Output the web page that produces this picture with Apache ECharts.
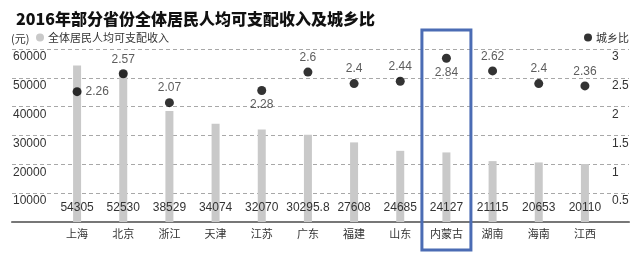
<!DOCTYPE html>
<html><head><meta charset="utf-8">
<script src="https://cdn.jsdelivr.net/npm/echarts@6/dist/echarts.min.js"></script>
<style>html,body{margin:0;padding:0;background:#fff}#c{width:640px;height:262px}</style>
</head><body><div id="c"></div>
<script>
var titleText = '2016年部分省份全体居民人均可支配收入及城乡比';
var categories = ['上海','北京','浙江','天津','江苏','广东','福建','山东','内蒙古','湖南','海南','江西'];
var incomeValues = [54305, 52530, 38529, 34074, 32070, 30295.8, 27608, 24685, 24127, 21115, 20653, 20110];
var ratioValues = [2.26, 2.57, 2.07, null, 2.28, 2.6, 2.4, 2.44, 2.84, 2.62, 2.4, 2.36];
var ratioLabelPos = ['right','top','top','top','bottom','top','top','top','bottom','top','top','top'];
var incomeTicks = [0, 10000, 20000, 30000, 40000, 50000, 60000];
var ratioTicks = [0, 0.5, 1, 1.5, 2, 2.5, 3];
var highlightCategory = '内蒙古';

var FONT = "'Liberation Sans', 'Noto Sans CJK SC', sans-serif";
var CJK = "'Noto Sans CJK SC', sans-serif";
var chart = echarts.init(document.getElementById('c'), null, {renderer:'canvas'});

var ratioData = ratioValues.map(function(v, i){
  return {value: v, label: {position: ratioLabelPos[i]}};
});
function plain(v){ return String(v); }

var option = {
  animation: false,
  textStyle: {fontFamily: FONT},
  title: {
    text: titleText, left: 11, top: 6,
    textStyle: {fontSize: 16, fontWeight: 900, color: '#111', fontFamily: CJK}
  },
  legend: [
    {data: ['全体居民人均可支配收入'], left: 36, top: 32, padding: 0, icon: 'circle', itemWidth: 8, itemHeight: 8, itemGap: 5,
     textStyle: {fontSize: 11, color: '#333', fontFamily: CJK, padding: [0,0,0,-1]}},
    {data: ['城乡比'], right: 11, top: 32, padding: 0, icon: 'circle', itemWidth: 8, itemHeight: 8,
     textStyle: {fontSize: 11, color: '#333', fontFamily: CJK, padding: [0,0,0,-1]}}
  ],
  grid: [
    {left: 12, right: 11, top: 49, bottom: 40},
    {left: 54, right: 32, top: 49, bottom: 40}
  ],
  xAxis: [
    {gridIndex: 0, type: 'value', min: 0, max: 1, position: 'top',
     axisLine: {show: true, lineStyle: {color: '#9a9a9a', width: 1}}, axisTick: {show: false}, axisLabel: {show: false}, splitLine: {show: false}},
    {gridIndex: 0, type: 'value', min: 0, max: 1, position: 'bottom',
     axisLine: {show: true, lineStyle: {color: '#777', width: 2}}, axisTick: {show: false}, axisLabel: {show: false}, splitLine: {show: false}},
    {gridIndex: 1, type: 'category', data: categories, position: 'bottom',
     axisLine: {show: false}, axisTick: {show: false},
     axisLabel: {fontSize: 11, color: '#333', margin: 6, fontFamily: CJK}}
  ],
  yAxis: [
    {gridIndex: 0, type: 'value', min: incomeTicks[0], max: incomeTicks[incomeTicks.length-1], interval: incomeTicks[1]-incomeTicks[0],
     name: '(元)', nameLocation: 'end', nameGap: 10,
     nameTextStyle: {align: 'left', verticalAlign: 'middle', fontSize: 11, color: '#333', padding: [0,0,0,-1], fontFamily: CJK},
     axisLine: {show: false}, axisTick: {show: false},
     axisLabel: {inside: true, align: 'left', verticalAlign: 'top', margin: 1, padding: [2,0,0,0], showMinLabel: false, fontSize: 12, color: '#333', formatter: plain},
     splitLine: {show: true, lineStyle: {type: [4,3], color: '#a8a8a8', width: 1}}},
    {gridIndex: 0, type: 'value', position: 'right', min: ratioTicks[0], max: ratioTicks[ratioTicks.length-1], interval: ratioTicks[1]-ratioTicks[0],
     axisLine: {show: false}, axisTick: {show: false}, splitLine: {show: false},
     axisLabel: {inside: true, align: 'left', verticalAlign: 'top', margin: 17, padding: [2,0,0,0], showMinLabel: false, fontSize: 12, color: '#333', formatter: plain}},
    {gridIndex: 1, type: 'value', min: incomeTicks[0], max: incomeTicks[incomeTicks.length-1], show: false},
    {gridIndex: 1, type: 'value', min: ratioTicks[0], max: ratioTicks[ratioTicks.length-1], show: false}
  ],
  series: [
    {name: '全体居民人均可支配收入', type: 'bar', xAxisIndex: 2, yAxisIndex: 2, data: incomeValues,
     barWidth: 8, itemStyle: {color: '#c9c9c9'},
     label: {show: true, position: 'insideBottom', distance: 8, fontSize: 12, color: '#333'}},
    {name: '城乡比', type: 'scatter', xAxisIndex: 2, yAxisIndex: 3, data: ratioData,
     symbolSize: 9, itemStyle: {color: '#000'},
     label: {show: true, distance: 4, fontSize: 12, color: '#333', formatter: function(p){ return p.value; }}}
  ]
};
chart.setOption(option);

var idx = categories.indexOf(highlightCategory);
var cx = chart.convertToPixel({xAxisIndex: 2}, idx);
chart.setOption({
  graphic: [{type: 'rect', shape: {x: cx - 24.5, y: 30, width: 49, height: 220},
    style: {fill: 'none', stroke: '#4b6cb4', lineWidth: 3}, z: 100}]
});
</script></body></html>
